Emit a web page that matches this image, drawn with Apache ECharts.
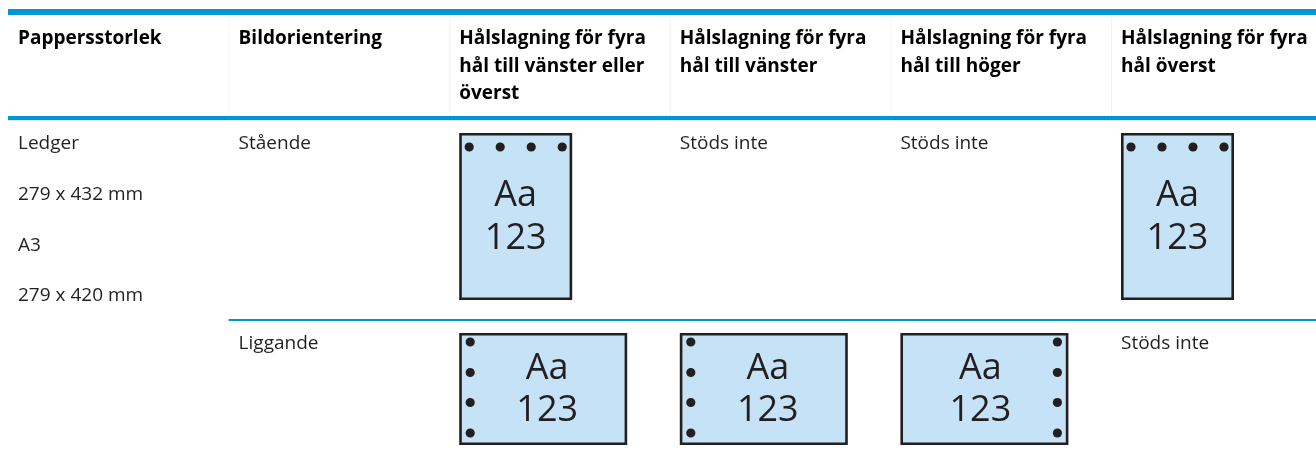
<!DOCTYPE html>
<html><head><meta charset="utf-8">
<script src="https://cdn.jsdelivr.net/npm/echarts@6/dist/echarts.min.js"></script>
<style>html,body{margin:0;padding:0;background:#fff}#c{width:1316px;height:462px}</style>
</head><body><div id="c"></div>
<script>
// ---- table content ----
const headers = [
  'Pappersstorlek',
  'Bildorientering',
  'Hålslagning för fyra\nhål till vänster eller\növerst',
  'Hålslagning för fyra\nhål till vänster',
  'Hålslagning för fyra\nhål till höger',
  'Hålslagning för fyra\nhål överst'
];
const paperSizes = ['Ledger', '279 x 432 mm', 'A3', '279 x 420 mm'];
const orientations = ['Stående', 'Liggande'];
const orientationShape = ['portrait', 'landscape'];
const punchStaende = ['top', 'none', 'none', 'top'];
const punchLiggande = ['left', 'left', 'right', 'none'];
const unsupportedLabel = 'Stöds inte';
const iconLines = ['Aa', '123'];

// ---- layout / style ----
const COL_W = 220.6, GRID_LEFT = 8, GRID_W = 1308, CELL_PAD = 10;
const HEADER_FIRST_LINE = 39, HEADER_LH = 27.5;
const ROW_TOP = [120, 320];
const ROW_TEXT_OFF = 23.5;
const PAPER_LH = 50.8;
const ICON_OFF = 13;
const BLUE = '#0096d6', INK = '#231f20', PAPER = '#c6e2f6';
const FONT = '"Open Sans", "Noto Sans", sans-serif';
const X_MAX = GRID_W / COL_W;

const cells = [];
headers.forEach((h, i) => cells.push({kind: 'header', col: i, y: HEADER_FIRST_LINE - HEADER_LH / 2, text: h}));
cells.push({kind: 'body', col: 0, y: ROW_TOP[0] + ROW_TEXT_OFF - PAPER_LH / 2, text: paperSizes.join('\n'), lh: PAPER_LH});
orientations.forEach((o, r) => {
  cells.push({kind: 'body', col: 1, y: ROW_TOP[r] + ROW_TEXT_OFF - 12, text: o, lh: 24});
  const punches = r === 0 ? punchStaende : punchLiggande;
  punches.forEach((p, j) => {
    if (p === 'none') cells.push({kind: 'body', col: 2 + j, y: ROW_TOP[r] + ROW_TEXT_OFF - 12, text: unsupportedLabel, lh: 24});
    else cells.push({kind: 'icon', col: 2 + j, y: ROW_TOP[r] + ICON_OFF, shape: orientationShape[r], punch: p});
  });
});
// rules
cells.push({kind: 'rule', col: 0, col2: X_MAX, y: 12, w: 6, color: BLUE});
cells.push({kind: 'rule', col: 0, col2: X_MAX, y: 118, w: 4, color: BLUE});
cells.push({kind: 'rule', col: 0, col2: X_MAX, y: 120.5, w: 1, color: '#d6ebf7'});
cells.push({kind: 'rule', col: 1, col2: X_MAX, y: 320, w: 1.8, color: BLUE});
for (let i = 1; i < 6; i++) cells.push({kind: 'vrule', col: i, y: 15, y2: 116, color: '#f1f4f6'});

function icon(x, y, shape, punch) {
  const ch = [];
  let w, h, holes, tx, ty;
  if (shape === 'portrait') {
    w = 113; h = 167;
    holes = [10, 41, 72, 103].map(v => [v, 14]);
    tx = 56.5; ty = [62.5, 105.5];
  } else {
    w = 168; h = 112;
    const hx = punch === 'left' ? 11 : 157;
    holes = [9, 39.5, 69.5, 100].map(v => [hx, v]);
    tx = punch === 'left' ? 88 : 80; ty = [36, 78];
  }
  ch.push({type: 'rect', shape: {x: x + 1.3, y: y + 1.3, width: w - 2.6, height: h - 2.6},
    style: {fill: PAPER, stroke: INK, lineWidth: 2.6}});
  holes.forEach(p => ch.push({type: 'circle', shape: {cx: x + p[0], cy: y + p[1], r: 4.6}, style: {fill: INK}}));
  iconLines.forEach((t, k) => ch.push({type: 'text', style: {x: x + tx, y: y + ty[k], text: t,
    fill: INK, font: '36px ' + FONT, align: 'center', verticalAlign: 'middle'}}));
  return {type: 'group', children: ch};
}

function renderItem(params, api) {
  const c = cells[api.value(2)];
  const p = api.coord([c.col, c.y]);
  if (c.kind === 'rule') {
    const p2 = api.coord([c.col2, c.y]);
    return {type: 'line', shape: {x1: p[0], y1: p[1], x2: p2[0], y2: p[1]}, style: {stroke: c.color, lineWidth: c.w}};
  }
  if (c.kind === 'vrule') {
    const p2 = api.coord([c.col, c.y2]);
    return {type: 'line', shape: {x1: p[0] + 0.5, y1: p[1], x2: p[0] + 0.5, y2: p2[1]}, style: {stroke: c.color, lineWidth: 1}};
  }
  const x = p[0] + CELL_PAD;
  if (c.kind === 'header') {
    return {type: 'text', style: {x: x, y: p[1], text: c.text, fill: '#000',
      font: 'bold 19px ' + FONT, lineHeight: HEADER_LH, align: 'left', verticalAlign: 'top'}};
  }
  if (c.kind === 'body') {
    return {type: 'text', style: {x: x, y: p[1], text: c.text, fill: INK,
      font: '19px ' + FONT, lineHeight: c.lh, align: 'left', verticalAlign: 'top'}};
  }
  return icon(x, p[1], c.shape, c.punch);
}

const chart = echarts.init(document.getElementById('c'), null, {renderer: 'canvas'});
chart.setOption({
  animation: false,
  backgroundColor: '#fff',
  grid: {left: GRID_LEFT, top: 0, width: GRID_W, height: 462},
  xAxis: {type: 'value', min: 0, max: X_MAX, show: false},
  yAxis: {type: 'value', min: 0, max: 462, inverse: true, show: false},
  series: [{
    type: 'custom',
    coordinateSystem: 'cartesian2d',
    clip: false,
    silent: true,
    renderItem: renderItem,
    encode: {x: 0, y: 1},
    data: cells.map((c, i) => [c.col, c.y, i])
  }]
});
</script></body></html>
